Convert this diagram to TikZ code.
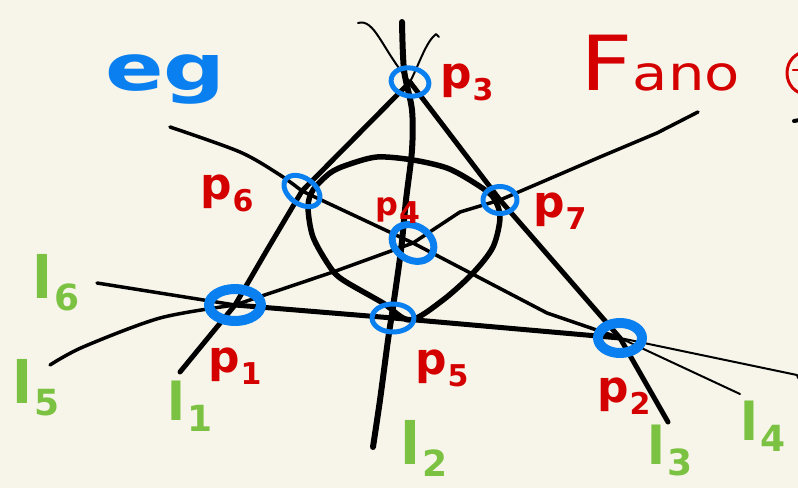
\documentclass[tikz,border=0pt]{standalone}
\usepackage{fontspec}
\setmainfont{DejaVu Sans}
\usetikzlibrary{shapes.geometric}
\definecolor{bg}{HTML}{F7F5EA}
\definecolor{pblue}{HTML}{0A80F0}
\definecolor{pred}{HTML}{D40000}
\definecolor{pgreen}{HTML}{7CC242}
\newcommand{\plbl}[1]{p\kern1pt\raisebox{-0.28em}{\fontsize{30}{30}\selectfont #1}}
\newcommand{\llbl}[1]{l\kern2pt\raisebox{-0.22em}{\fontsize{36}{36}\selectfont #1}}
\begin{document}
\begin{tikzpicture}[x=1pt,y=-1pt,line cap=round,line join=round,
  pt/.style={draw=pblue,line width=5pt,ellipse,inner sep=0pt,minimum width=36pt,minimum height=26pt},
  bigpt/.style={pt,line width=10pt,minimum width=44pt,minimum height=26pt},
  plab/.style={text=pred,anchor=base west,inner sep=0pt,font=\fontsize{44}{44}\selectfont\bfseries},
  llab/.style={text=pgreen,anchor=base west,inner sep=0pt,font=\fontsize{58}{58}\selectfont\bfseries},
  thickln/.style={line width=5pt},
  midln/.style={line width=3.5pt},
  thinln/.style={line width=2pt}]
\fill[bg] (0,0) rectangle (798,488);
\useasboundingbox (0,0) rectangle (798,488);
\clip (0,0) rectangle (798,488);
% points
\coordinate (P3) at (410,82);
\coordinate (P6) at (302,191);
\coordinate (P7) at (500,200);
\coordinate (P4) at (413,243);
\coordinate (P1) at (235,305);
\coordinate (P5) at (393,318);
\coordinate (P2) at (620,338);
% free ends
\coordinate (e1) at (180,372);
\coordinate (e1t) at (436,34);
\coordinate (e3t) at (358,23);
\coordinate (e3) at (668,422);
\coordinate (e6l) at (97,283);
\coordinate (e6r) at (797,375);
\coordinate (e5l) at (50,365);
\coordinate (e5r) at (698,112);
\coordinate (e4l) at (170,127);
\coordinate (e4r) at (740,394);
% l1
\draw[thickln] (e1) -- (P1) -- (267,250) -- (P6) -- (P3);
\draw[thinln] (P3) .. controls (420,62) and (426,42) .. (e1t) -- (439,37);
% l3
\draw[thickln] (P3) -- (P7) -- (P2) -- (e3);
\draw[thinln] (P3) .. controls (382,50) and (375,18) .. (e3t);
% l2
\draw[line width=6pt] plot[smooth] coordinates {(402,22) (404,70) (412,110) (412,150) (406,200) (401,250) (393,307) (388,340) (380,400) (373,447)};
% l6
\draw[midln] (e6l) -- (P1);
\draw[thickln] (P1) -- (P5) -- (P2);
\draw[thinln] (P2) -- (e6r) -- (798,378);
% l5
\draw[midln] plot[smooth] coordinates {(e5l) (83,347) (160,318) (P1)};
\draw[midln] (P1) -- (333,272) -- (P4) -- (460,212) -- (P7) -- (600,157) -- (657,133) -- (e5r);
% l4
\draw[midln] plot[smooth] coordinates {(e4l) (240,152) (280,175) (P6)};
\draw[midln] (P6) -- (P4) -- (547,313) -- (P2);
\draw[thinln] (P2) -- (e4r);
% conic
\draw[line width=5.5pt] plot[smooth cycle] coordinates {(313,190) (330,173) (347,165) (377,157) (413,160) (447,168) (473,182) (493,197) (500,217) (493,247) (473,273) (443,300) (410,320) (383,303) (343,280) (330,267) (313,237) (308,207)};
% blue markers
\node[pt,minimum width=38pt,minimum height=28pt,rotate=-10] (n3) at (P3) {};
\node[pt,minimum width=40pt,minimum height=26pt,rotate=-35] (n6) at (P6) {};
\node[pt,minimum width=34pt,minimum height=27pt] (n7) at (P7) {};
\node[pt,line width=7pt,minimum width=44pt,minimum height=34pt,rotate=-30] (n4) at (P4) {};
\node[bigpt,minimum width=52pt,minimum height=32pt] (n1) at (P1) {};
\node[pt,minimum width=42pt,minimum height=28pt] (n5) at (P5) {};
\node[bigpt,minimum width=44pt,minimum height=30pt] (n2) at (P2) {};
% point labels
\node[plab] (t3) at (440,88) {\plbl{3}};
\node[plab] (t6) at (200,199) {\plbl{6}};
\node[plab] (t7) at (533,217) {\plbl{7}};
\node[plab,font=\fontsize{32}{32}\selectfont\bfseries] (t4) at (375,215) {\plbl{4}};
\node[plab] (t1) at (208,372) {\plbl{1}};
\node[plab] (t5) at (415,374) {\plbl{5}};
\node[plab] (t2) at (597,402) {\plbl{2}};
% line labels
\node[llab] (l6) at (32,298) {\llbl{6}};
\node[llab] (l5) at (12,403) {\llbl{5}};
\node[llab,font=\fontsize{52}{52}\selectfont\bfseries] (l1) at (167,420) {\llbl{1}};
\node[llab] (l2) at (400,464) {\llbl{2}};
\node[llab,font=\fontsize{52}{52}\selectfont\bfseries] (l3) at (647,464) {\llbl{3}};
\node[llab,font=\fontsize{52}{52}\selectfont\bfseries] (l4) at (740,440) {\llbl{4}};
% titles
\node[text=pblue,anchor=base west,inner sep=0pt,xscale=1.35,font=\fontsize{64}{64}\selectfont\bfseries] (eg) at (105,90) {eg};
\node[text=pred,anchor=base west,inner sep=0pt,xscale=1.2] (fano) at (580,90) {{\fontsize{76}{76}\selectfont F}{\fontsize{48}{48}\selectfont ano}};
\draw[pred,line width=3pt] (806,73) ellipse [x radius=19, y radius=21];
\draw[pred,line width=2.5pt] (793,70) -- (798,70);
\draw[line width=4pt] (794,121) -- (800,120);
\end{tikzpicture}
\end{document}
